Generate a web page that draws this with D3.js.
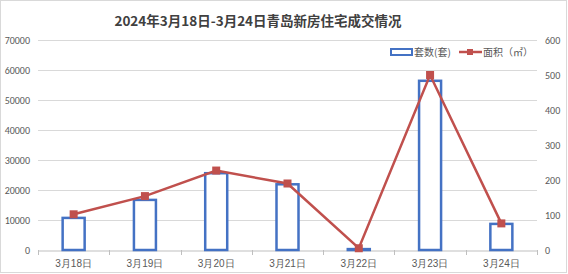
<!DOCTYPE html>
<html>
<head>
<meta charset="utf-8">
<script src="https://cdn.jsdelivr.net/npm/d3@7"></script>
<style>
  body { margin: 0; background: #fff; }
  svg { display: block; font-family: "Microsoft YaHei", "Noto Sans CJK SC", sans-serif; }
</style>
</head>
<body>
<svg id="chart" width="568" height="274"></svg>
<script>
var days = ["3月18日", "3月19日", "3月20日", "3月21日", "3月22日", "3月23日", "3月24日"];
var units = [10700, 16700, 25600, 21900, 300, 56400, 8700];
var areas = [102, 154, 227, 190, 5, 500, 76];
var leftTicks = [0, 10000, 20000, 30000, 40000, 50000, 60000, 70000];
var rightTicks = [0, 100, 200, 300, 400, 500, 600];

var plotLeft = 38, plotRight = 537, plotTop = 40, plotBottom = 250;
var svg = d3.select("#chart");

// outer border
svg.append("rect")
  .attr("x", 0.5).attr("y", 0.5)
  .attr("width", 566).attr("height", 272)
  .attr("fill", "#fff")
  .attr("stroke", "#d9d9d9");

var x = d3.scaleBand().domain(days).range([plotLeft, plotRight]);
var yL = d3.scaleLinear().domain([0, 70000]).range([plotBottom, plotTop]);
var yR = d3.scaleLinear().domain([0, 600]).range([plotBottom, plotTop]);

// grid
svg.append("g").selectAll("line").data(leftTicks.slice(1)).enter()
  .append("line")
  .attr("x1", plotLeft).attr("x2", plotRight)
  .attr("y1", function(d) { return yL(d) + 0.5; })
  .attr("y2", function(d) { return yL(d) + 0.5; })
  .attr("stroke", "#d9d9d9");

var numFont = "Calibri, Carlito, 'Liberation Sans', sans-serif";

// left axis labels
var axL = svg.append("g")
  .attr("transform", "translate(" + (plotLeft - 2) + ",0)")
  .call(d3.axisLeft(yL).tickValues(leftTicks).tickSize(0).tickPadding(6).tickFormat(d3.format("d")));
axL.select(".domain").remove();
axL.selectAll("text").attr("fill", "#595959").style("font-size", "10px").style("font-family", numFont);

// right axis labels
var axR = svg.append("g")
  .attr("transform", "translate(" + (plotRight + 2) + ",0)")
  .call(d3.axisRight(yR).tickValues(rightTicks).tickSize(0).tickPadding(6));
axR.select(".domain").remove();
axR.selectAll("text").attr("fill", "#595959").style("font-size", "10px").style("font-family", numFont);

// bottom axis
var axB = svg.append("g")
  .attr("transform", "translate(0," + (plotBottom + 0.5) + ")")
  .call(d3.axisBottom(x).tickSize(0).tickPadding(9));
axB.select(".domain").attr("stroke", "#bfbfbf");
axB.selectAll("text").attr("fill", "#595959").style("font-size", "10px");
svg.append("g").selectAll("line").data(d3.range(days.length + 1)).enter()
  .append("line")
  .attr("x1", function(i) { return Math.round(plotLeft + i * x.step()) + 0.5; })
  .attr("x2", function(i) { return Math.round(plotLeft + i * x.step()) + 0.5; })
  .attr("y1", plotBottom).attr("y2", plotBottom + 5)
  .attr("stroke", "#bfbfbf");

// bars
var bw = 22;
svg.append("g").selectAll("rect").data(units).enter()
  .append("rect")
  .attr("x", function(d, i) { return x(days[i]) + x.bandwidth() / 2 - bw / 2; })
  .attr("y", function(d) { return yL(d); })
  .attr("width", bw)
  .attr("height", function(d) { return plotBottom - yL(d); })
  .attr("fill", "#fff")
  .attr("stroke", "#4472C4")
  .attr("stroke-width", 2.5);

// line
var line = d3.line()
  .x(function(d, i) { return x(days[i]) + x.bandwidth() / 2; })
  .y(function(d) { return yR(d); });
svg.append("path")
  .datum(areas)
  .attr("d", line)
  .attr("fill", "none")
  .attr("stroke", "#C0504D")
  .attr("stroke-width", 2.5);
svg.append("g").selectAll("rect").data(areas).enter()
  .append("rect")
  .attr("x", function(d, i) { return x(days[i]) + x.bandwidth() / 2 - 4; })
  .attr("y", function(d) { return yR(d) - 4; })
  .attr("width", 8).attr("height", 8)
  .attr("fill", "#C0504D");

// title
svg.append("text")
  .attr("x", 258).attr("y", 26)
  .attr("text-anchor", "middle")
  .attr("fill", "#404040")
  .style("font-size", "13.5px")
  .style("font-weight", "bold")
  .text("2024年3月18日-3月24日青岛新房住宅成交情况");

// legend
var lg = svg.append("g").attr("transform", "translate(390,53)");
lg.append("rect").attr("x", 1).attr("y", -4).attr("width", 21).attr("height", 6)
  .attr("fill", "#fff").attr("stroke", "#4472C4").attr("stroke-width", 2);
lg.append("text").attr("x", 24).attr("y", 3).attr("fill", "#595959").style("font-size", "10px").text("套数(套)");
lg.append("line").attr("x1", 69).attr("x2", 92).attr("y1", -1).attr("y2", -1)
  .attr("stroke", "#C0504D").attr("stroke-width", 2.5);
lg.append("rect").attr("x", 77).attr("y", -4).attr("width", 6).attr("height", 6).attr("fill", "#C0504D");
lg.append("text").attr("x", 93).attr("y", 3).attr("fill", "#595959").style("font-size", "10px").text("面积（㎡）");
</script>
</body>
</html>
